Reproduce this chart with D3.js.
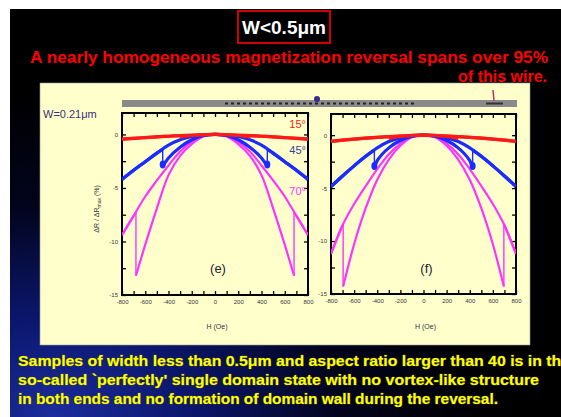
<!DOCTYPE html>
<html>
<head>
<meta charset="utf-8">
<style>
  body { margin: 0; background: #fff; }
  svg { display: block; }
  .tick text { font: 6px "Liberation Sans", sans-serif; fill: #334; }
  .tick line { stroke: #000; stroke-width: 1.3; }
  .slide-text { font-family: "Liberation Sans", sans-serif; font-weight: bold; }
</style>
<script src="https://d3js.org/d3.v7.min.js"></script>
</head>
<body>
<svg width="561" height="417"></svg>
<script>
// --- data ---
var titleText = "W<0.5\u03bcm";
var subtitleLines = ["A nearly homogeneous magnetization reversal spans over 95%", "of this wire."];
var noteLines = [
  "Samples of width less than 0.5\u03bcm and aspect ratio larger than 40 is in the",
  "so-called `perfectly' single domain state with no vortex-like structure",
  "in both ends and no formation of domain wall during the reversal."
];
var widthLabel = "W=0.21\u03bcm";
var panelNames = ["(e)", "(f)"];
var angles = ["15\u00b0", "45\u00b0", "70\u00b0"];
var angleColors = ["#ff1a1a", "#1a2cff", "#ff33ff"];

var xTicks = [-800, -600, -400, -200, 0, 200, 400, 600, 800];
var yTicks = [0, -5, -10, -15];

// |H| grid (Oe) for the stable branch
var fieldH = [0, 100, 200, 300, 400, 500, 600, 700, 800];

// stable branch dR/dRmax (%) at fieldH, panel (e)
var stableE15 = [0, -0.02, -0.06, -0.11, -0.17, -0.23, -0.3, -0.37, -0.45];
var stableE45 = [0, -0.05, -0.2, -0.5, -1.0, -1.75, -2.55, -3.35, -4.2];
var stableE70 = [0, -0.15, -0.7, -1.6, -2.9, -4.3, -5.8, -7.6, -9.4];
// panel (f)
var stableF15 = [0, -0.02, -0.07, -0.13, -0.2, -0.28, -0.37, -0.47, -0.58];
var stableF45 = [0, -0.05, -0.25, -0.6, -1.2, -2.0, -2.9, -3.85, -4.85];
var stableF70 = [0, -0.15, -0.8, -1.8, -3.2, -4.8, -6.5, -8.5, -11.2];

// metastable branch (before switching) at fieldH, up to the switching field
var metaE15 = [0, -0.03, -0.1];
var metaE45 = [0, -0.1, -0.5, -1.2, -2.2];
var metaE70 = [0, -0.2, -0.9, -2.0, -3.8, -6.9, -10.3];
var metaF15 = [0, -0.03, -0.12];
var metaF45 = [0, -0.1, -0.5, -1.2, -2.4];
var metaF70 = [0, -0.2, -1.0, -2.3, -4.2, -6.9, -10.3];

// switching field and the values just before / after the jump
var switchFieldE = [300, 450, 680];
var switchLowE = [-0.25, -3.0, -13.2];
var switchHighE = [-0.11, -1.4, -7.3];
var switchFieldF = [300, 425, 695];
var switchLowF = [-0.3, -3.1, -14.3];
var switchHighF = [-0.13, -1.4, -8.4];

var panels = [
  { name: panelNames[0], stable: [stableE15, stableE45, stableE70], meta: [metaE15, metaE45, metaE70],
    hsw: switchFieldE, low: switchLowE, high: switchHighE, x0: 122, x1: 308, y0: 295, y1: 113, yTitle: true, angleLabels: true },
  { name: panelNames[1], stable: [stableF15, stableF45, stableF70], meta: [metaF15, metaF45, metaF70],
    hsw: switchFieldF, low: switchLowF, high: switchHighF, x0: 331, x1: 516, y0: 294, y1: 114, yTitle: false, angleLabels: false }
];

var svg = d3.select("svg");
var defs = svg.append("defs");

var grad = defs.append("radialGradient").attr("id", "bg")
    .attr("cx", 0.08).attr("cy", 1.0).attr("r", 0.8);
grad.append("stop").attr("offset", 0).attr("stop-color", "#1c2c9c");
grad.append("stop").attr("offset", 0.3).attr("stop-color", "#0b176e");
grad.append("stop").attr("offset", 0.65).attr("stop-color", "#02041c");
grad.append("stop").attr("offset", 1).attr("stop-color", "#000");

// slide
svg.append("rect").attr("x", 10).attr("y", 9).attr("width", 551).attr("height", 408)
   .attr("fill", "url(#bg)");

// title box
svg.append("rect").attr("x", 238).attr("y", 11).attr("width", 92).attr("height", 32)
   .attr("fill", "#000").attr("stroke", "#d00000").attr("stroke-width", 2);
svg.append("text").attr("class", "slide-text")
   .attr("x", 284).attr("y", 34).attr("text-anchor", "middle")
   .attr("font-size", 19).attr("fill", "#fff")
   .text(titleText);

svg.append("text").attr("class", "slide-text")
   .attr("x", 30).attr("y", 63).attr("font-size", 16).attr("fill", "#ff0000")
   .attr("textLength", 518).attr("lengthAdjust", "spacingAndGlyphs")
   .text(subtitleLines[0]);
svg.append("text").attr("class", "slide-text")
   .attr("x", 547).attr("y", 82).attr("font-size", 16).attr("fill", "#ff0000")
   .attr("text-anchor", "end")
   .text(subtitleLines[1]);

// figure panel
svg.append("rect").attr("x", 40).attr("y", 83).attr("width", 490).attr("height", 262)
   .attr("fill", "#ffffcc").attr("stroke", "#999").attr("stroke-width", 0.6);

// gray bar with dots
svg.append("rect").attr("x", 122).attr("y", 100).attr("width", 395).attr("height", 7).attr("fill", "#8a8a8a");
svg.append("line").attr("x1", 225).attr("x2", 415).attr("y1", 103.5).attr("y2", 103.5)
   .attr("stroke", "#222").attr("stroke-width", 2).attr("stroke-dasharray", "3,3");
svg.append("line").attr("x1", 486).attr("x2", 503).attr("y1", 103.5).attr("y2", 103.5)
   .attr("stroke", "#333").attr("stroke-width", 2);
svg.append("circle").attr("cx", 317).attr("cy", 99).attr("r", 3).attr("fill", "#3a2a8a");
svg.append("line").attr("x1", 493).attr("x2", 494).attr("y1", 90).attr("y2", 101)
   .attr("stroke", "#c03060").attr("stroke-width", 1.5);

svg.append("text").attr("x", 43).attr("y", 118)
   .attr("font-family", "Liberation Sans, sans-serif").attr("font-size", 11)
   .attr("fill", "#3a2f7a").text(widthLabel);

panels.forEach(function(p, pi) {
  var x = d3.scaleLinear().domain([-800, 800]).range([p.x0, p.x1]);
  var y = d3.scaleLinear().domain([-15, 2]).range([p.y0, p.y1]);
  var g = svg.append("g");
  var xMinor = d3.range(-800, 801, 100);
  var yMinor = d3.range(-15, 2.1, 2.5);

  var clipId = "clip" + pi;
  defs.append("clipPath").attr("id", clipId).append("rect")
      .attr("x", p.x0).attr("y", p.y1).attr("width", p.x1 - p.x0).attr("height", p.y0 - p.y1);

  var ax = g.append("g").attr("transform", "translate(0," + p.y0 + ")")
      .call(d3.axisBottom(x).tickValues(xMinor).tickSize(-4).tickPadding(5)
        .tickFormat(function(d) { return xTicks.indexOf(d) >= 0 ? d : ""; }));
  g.append("g").attr("transform", "translate(0," + p.y1 + ")")
      .call(d3.axisTop(x).tickValues(xMinor).tickSize(-4).tickFormat(""));
  g.append("g").attr("transform", "translate(" + p.x0 + ",0)")
      .call(d3.axisLeft(y).tickValues(yMinor).tickSize(-4).tickPadding(4)
        .tickFormat(function(d) { return yTicks.indexOf(d) >= 0 ? d : ""; }));
  g.append("g").attr("transform", "translate(" + p.x1 + ",0)")
      .call(d3.axisRight(y).tickValues(yMinor).tickSize(-4).tickFormat(""));
  g.selectAll(".domain").remove();

  g.append("rect").attr("x", p.x0).attr("y", p.y1).attr("width", p.x1 - p.x0).attr("height", p.y0 - p.y1)
   .attr("fill", "none").attr("stroke", "#000").attr("stroke-width", 2);

  var line = d3.line().x(function(d) { return x(d[0]); }).y(function(d) { return y(d[1]); })
      .curve(d3.curveCatmullRom.alpha(0.5));
  var straight = d3.line().x(function(d) { return x(d[0]); }).y(function(d) { return y(d[1]); });

  var curves = g.append("g").attr("clip-path", "url(#" + clipId + ")");
  // draw 70 first, then 45, then 15 on top
  [2, 1, 0].forEach(function(k) {
    var st = p.stable[k], me = p.meta[k], hs = p.hsw[k];
    var color = angleColors[k];
    var width = k === 2 ? 2.2 : 3.2;
    [1, -1].forEach(function(s) {
      // sweep from s*800 through zero to -s*800
      var seg1 = [];
      for (var i = fieldH.length - 1; i >= 0; i--) seg1.push([s * fieldH[i], st[i]]);
      for (var j = 1; j < me.length; j++) seg1.push([-s * fieldH[j], me[j]]);
      seg1.push([-s * hs, p.low[k]]);
      var seg3 = [[-s * hs, p.high[k]]];
      fieldH.forEach(function(h, i) { if (h > hs) seg3.push([-s * h, st[i]]); });

      curves.append("path").attr("d", line(seg1)).attr("fill", "none")
            .attr("stroke", color).attr("stroke-width", width).attr("stroke-linejoin", "round");
      curves.append("path").attr("d", straight([[-s * hs, p.low[k]], [-s * hs, p.high[k]]]))
            .attr("fill", "none").attr("stroke", color).attr("stroke-width", 1.4);
      curves.append("path").attr("d", line(seg3)).attr("fill", "none")
            .attr("stroke", color).attr("stroke-width", width).attr("stroke-linejoin", "round");
      if (k === 1) {
        curves.append("ellipse").attr("cx", x(-s * hs)).attr("cy", y(p.low[k]) - 2)
              .attr("rx", 3).attr("ry", 4).attr("fill", color);
      }
    });
  });

  if (p.yTitle) {
    var yt = g.append("text").attr("transform", "translate(99," + ((p.y0 + p.y1) / 2 + 5) + ") rotate(-90)")
      .attr("text-anchor", "middle").attr("font-family", "Liberation Sans, sans-serif")
      .attr("font-size", 7).attr("fill", "#334");
    yt.append("tspan").text("\u0394R / \u0394R");
    yt.append("tspan").attr("font-size", 5).attr("dy", 1.5).text("max");
    yt.append("tspan").attr("dy", -1.5).text(" (%)");
  }

  g.append("text").attr("x", (p.x0 + p.x1) / 2 + 2).attr("y", 329).attr("text-anchor", "middle")
   .attr("font-family", "Liberation Sans, sans-serif").attr("font-size", 7).attr("fill", "#334")
   .text("H (Oe)");

  g.append("text").attr("x", x(0) + 3).attr("y", 273).attr("text-anchor", "middle")
   .attr("font-family", "Liberation Sans, sans-serif").attr("font-size", 13).attr("fill", "#223")
   .text(p.name);

  if (p.angleLabels) {
    var ay = [128, 154, 195];
    angles.forEach(function(a, k) {
      g.append("text").attr("x", p.x1 - 2).attr("y", ay[k]).attr("text-anchor", "end")
       .attr("font-family", "Liberation Sans, sans-serif").attr("font-size", 11)
       .attr("fill", k === 1 ? "#3340a0" : angleColors[k]).text(a);
    });
  }
});

// yellow notes at the bottom
noteLines.forEach(function(t, i) {
  var tl = [552, 521, 480][i];
  svg.append("text").attr("class", "slide-text")
     .attr("x", 18).attr("y", 366 + i * 19).attr("font-size", 15)
     .attr("fill", "#ffff00").attr("stroke", "#6b6b00").attr("stroke-width", 0.6)
     .attr("paint-order", "stroke")
     .attr("textLength", tl).attr("lengthAdjust", "spacingAndGlyphs")
     .text(t);
});
</script>
</body>
</html>
